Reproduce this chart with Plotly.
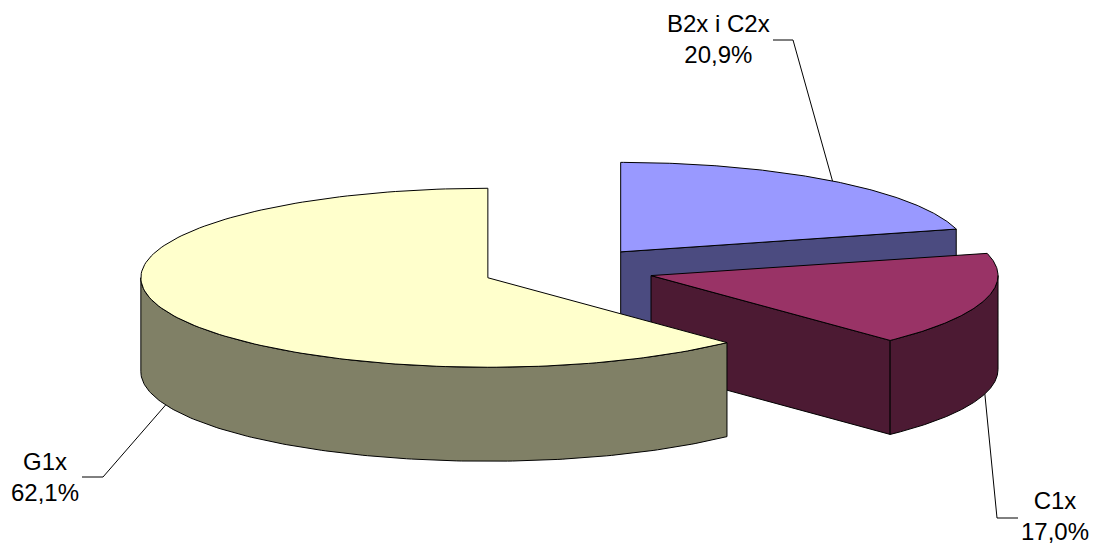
import numpy as np
import plotly.graph_objects as go

# --- data ---------------------------------------------------------------
labels = ["B2x i C2x", "C1x", "G1x"]
shares = [20.9, 17.0, 62.1]
top_colors = ["#9999FF", "#993366", "#FFFFCC"]
side_colors = ["#4B4B80", "#4C1A33", "#808066"]

# --- 3D pie geometry (pixel space of the canvas) -------------------------
W, H = 1093, 549
CX, CY = 568.0, 269.5      # pie centre before explosion
RX, RY = 347.0, 89.5       # ellipse radii of the tilted disc
DEPTH = 94.0               # thickness of the disc
EXPLODE = 86.3             # explosion distance (in x-radius units of px)
K = RY / RX

# label placement and leader-line elbows
label_pos = {"B2x i C2x": (718, 39), "C1x": (1055, 516), "G1x": (45, 477)}
leader_elbow = {
    "B2x i C2x": [(773, 40), (793, 40)],
    "C1x": [(1018, 518), (997, 518)],
    "G1x": [(82, 477), (103, 477)],
}


def pt(vx, vy, t, dz=0.0):
    r = np.radians(t)
    return vx + RX * np.cos(r), vy - RY * np.sin(r) + dz


def arc(vx, vy, ta, tb, dz=0.0, n=160):
    ts = np.linspace(ta, tb, n)
    r = np.radians(ts)
    return list(vx + RX * np.cos(r)), list(vy - RY * np.sin(r) + dz)


def poly(fig, xs, ys, fill):
    fig.add_trace(go.Scatter(
        x=xs + [xs[0]], y=ys + [ys[0]], mode="lines", fill="toself",
        fillcolor=fill, line=dict(color="black", width=1),
        hoverinfo="skip", showlegend=False))


fig = go.Figure()

cum = np.concatenate([[0.0], np.cumsum(shares)]) / 100.0
slices = []
for i, lab in enumerate(labels):
    t0 = 90 - 360 * cum[i]        # start angle (clockwise from 12 o'clock)
    t1 = 90 - 360 * cum[i + 1]    # end angle
    mid = (t0 + t1) / 2
    vx = CX + EXPLODE * np.cos(np.radians(mid))
    vy = CY - EXPLODE * K * np.sin(np.radians(mid))
    slices.append(dict(i=i, lab=lab, t0=t0, t1=t1, mid=mid, vx=vx, vy=vy))

# paint back-to-front
slices.sort(key=lambda s: -np.sin(np.radians(s["mid"])))

for s in slices:
    i, t0, t1, vx, vy = s["i"], s["t0"], s["t1"], s["vx"], s["vy"]
    side, top = side_colors[i], top_colors[i]
    # radial faces
    for t, vis in ((t1, np.cos(np.radians(t1)) > 1e-6),
                   (t0, np.cos(np.radians(t0)) < -1e-6)):
        if vis:
            ex, ey = pt(vx, vy, t)
            poly(fig, [vx, ex, ex, vx], [vy, ey, ey + DEPTH, vy + DEPTH], side)
    # outer wall (front half only)
    for k in range(-2, 3):
        a = max(t1, -180 + 360 * k)
        b = min(t0, 360 * k)
        if a < b:
            x_top, y_top = arc(vx, vy, a, b)
            x_bot, y_bot = arc(vx, vy, b, a, DEPTH)
            poly(fig, x_top + x_bot, y_top + y_bot, side)
    # top face
    xa, ya = arc(vx, vy, t0, t1)
    poly(fig, [vx] + xa, [vy] + ya, top)

# labels with leader lines
for s in slices:
    i, lab = s["i"], s["lab"]
    txt = f"{lab}<br>{shares[i]:.1f}%".replace(".", ",")
    lx, ly = label_pos[lab]
    fig.add_annotation(x=lx, y=ly, text=txt, showarrow=False, align="center",
                       xanchor="center", yanchor="middle",
                       font=dict(size=24, color="black",
                                 family="Liberation Sans, Arial, sans-serif"))
    if np.sin(np.radians(s["mid"])) > 0:
        ax_, ay_ = pt(s["vx"], s["vy"], s["mid"])
    else:
        ax_, ay_ = pt(s["vx"], s["vy"], s["mid"], DEPTH)
    pts = leader_elbow[lab] + [(ax_, ay_)]
    fig.add_trace(go.Scatter(x=[p[0] for p in pts], y=[p[1] for p in pts],
                             mode="lines", line=dict(color="black", width=1),
                             hoverinfo="skip", showlegend=False))

fig.update_layout(
    width=W, height=H, margin=dict(l=0, r=0, t=0, b=0),
    paper_bgcolor="white", plot_bgcolor="white",
    xaxis=dict(range=[0, W], visible=False, fixedrange=True),
    yaxis=dict(range=[H, 0], visible=False, fixedrange=True),
)

fig.write_html("out.html")
